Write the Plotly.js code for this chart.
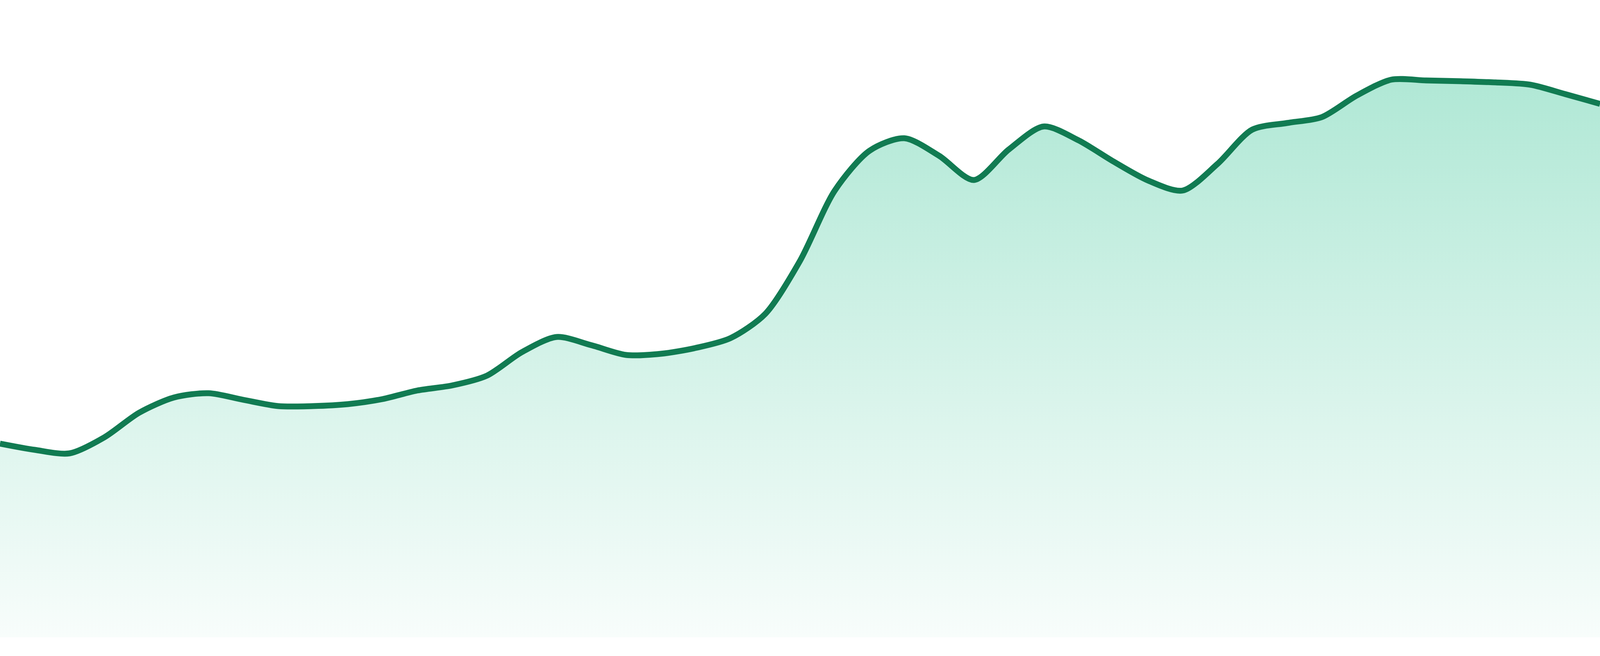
<!DOCTYPE html>
<html>
<head>
<meta charset="utf-8">
<script src="https://cdn.plot.ly/plotly-3.0.1.min.js"></script>
<style>
  html, body { margin: 0; padding: 0; background: #ffffff; overflow: hidden; }
  #chart { width: 100vw; height: 100vh; }
</style>
</head>
<body>
<div id="chart"></div>
<script>
// series, one value per step
const values = [
  49.6, 48.0, 47.1, 51.2, 57.5, 61.4, 62.5, 60.8, 59.2, 59.2,
  59.7, 61.0, 63.2, 64.5, 67.0, 73.0, 76.9, 74.8, 72.3, 72.6,
  74.1, 76.6, 82.8, 96.4, 114.4, 124.6, 127.8, 123.3, 117.1, 124.9,
  130.8, 127.3, 121.9, 117.0, 114.4, 121.2, 130.0, 131.7, 133.2, 138.7,
  142.8, 142.6, 142.4, 142.1, 141.5, 139.1, 136.6
];

const LINE_COLOR = '#117b52';

// the target is 1680 device px tall; convert sizes to css px
const px = window.innerHeight / 1680;

const trace = {
  y: values,
  type: 'scatter',
  mode: 'lines',
  line: { color: LINE_COLOR, width: 15 * px, shape: 'spline', smoothing: 0.8 },
  fill: 'tozeroy',
  fillgradient: {
    type: 'vertical',
    start: 0,
    stop: Math.max(...values),
    colorscale: [
      [0, 'rgba(16,185,129,0.03)'],
      [1, 'rgba(16,185,129,0.33)'],
    ],
  },
  hoverinfo: 'skip',
};

const layout = {
  autosize: true,
  paper_bgcolor: '#ffffff',
  plot_bgcolor: '#ffffff',
  margin: { t: 0, r: 0, b: 48 * px, l: 0 },
  showlegend: false,
  xaxis: { range: [0, values.length - 1], visible: false, fixedrange: true },
  yaxis: { range: [0, 163.2], visible: false, fixedrange: true },
};

Plotly.newPlot('chart', [trace], layout, { displayModeBar: false, staticPlot: true, responsive: true });
</script>
</body>
</html>
